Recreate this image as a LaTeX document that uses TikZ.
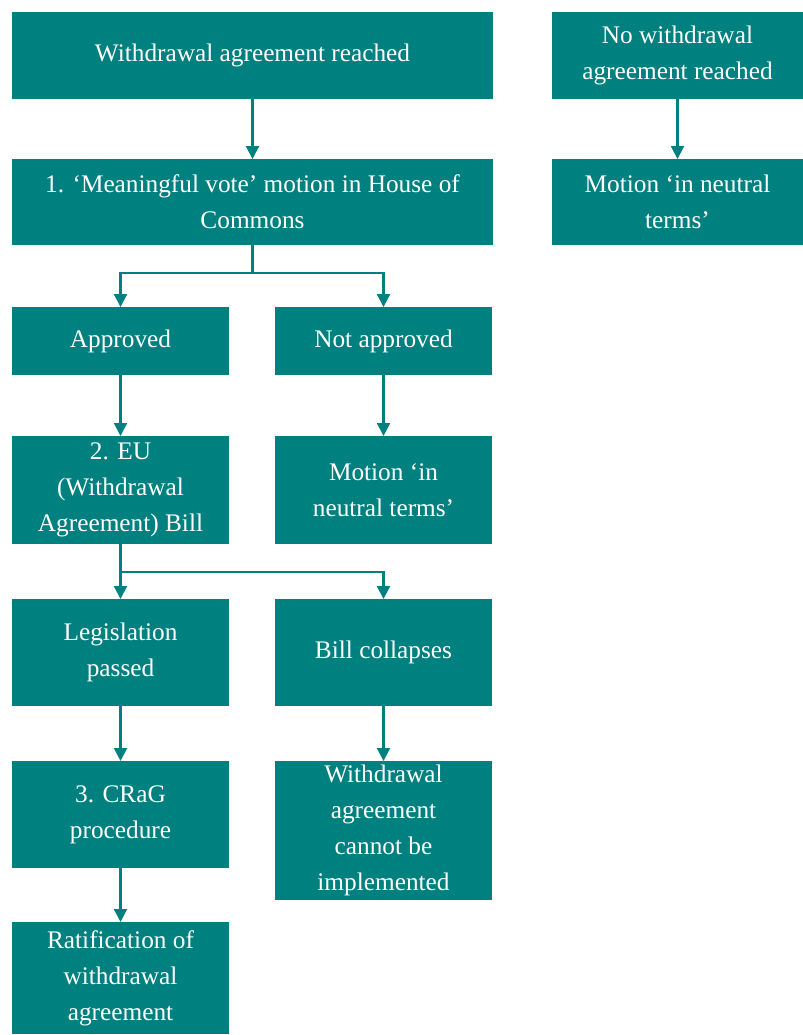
\documentclass[tikz,border=0pt]{standalone}
\usepackage{fontspec}
\setmainfont{Liberation Serif}
\usetikzlibrary{positioning,arrows.meta}
\definecolor{brexteal}{RGB}{0,128,127}

\begin{document}
\begin{tikzpicture}[
        node distance=1.5cm,
        every node/.style={font=\fontsize{18}{25.5}\selectfont},
        stage/.style={rectangle, fill=brexteal, text=white, align=center, inner sep=0pt, outer sep=0pt, minimum width=5.425cm},
        wide/.style={stage, minimum width=12.025cm, minimum height=2.175cm},
        line/.style={draw=brexteal, line width=1.5pt, -{Triangle[length=0.32cm,width=0.32cm]}}
    ]
        \useasboundingbox (0,0) rectangle (20.075,-25.875);
        \node[wide, anchor=north west] (agreed) at (0.3,-0.3) {Withdrawal agreement reached};
        \node[stage, minimum width=6.275cm, minimum height=2.175cm, right=1.475cm of agreed] (noagreed) {No withdrawal\\agreement reached};
        \node[wide, minimum height=2.15cm, below=of agreed] (mvote) {1. `Meaningful vote' motion in House of\\Commons};
        \node[stage, minimum width=6.275cm, minimum height=2.15cm, below=of noagreed] (neutraltop) {Motion `in neutral\\terms'};
        \node[stage, minimum height=1.7cm, below=1.55cm of mvote.south west, anchor=north west] (approved) {Approved};
        \node[stage, minimum height=1.7cm, right=1.15cm of approved] (notapproved) {Not approved};
        \node[stage, minimum height=2.7cm, below=1.525cm of approved] (bill) {2. EU\\(Withdrawal\\Agreement) Bill};
        \node[stage, minimum height=2.7cm, below=1.525cm of notapproved] (neutral) {Motion `in\\neutral terms'};
        \node[stage, minimum height=2.675cm, below=1.375cm of bill] (passed) {Legislation\\passed};
        \node[stage, minimum height=2.675cm, right=1.15cm of passed] (collapse) {Bill collapses};
        \node[stage, minimum height=2.675cm, below=1.375cm of passed] (crag) {3. CRaG\\procedure};
        \node[stage, minimum height=3.475cm, below=1.375cm of collapse] (cannot) {Withdrawal\\agreement\\cannot be\\implemented};
        \node[stage, minimum height=2.8cm, below=1.35cm of crag] (ratify) {Ratification of\\withdrawal\\agreement};
        \coordinate[below=0.7cm of mvote.south] (votesplit);
        \coordinate[below=0.7cm of bill.south] (billsplit);
        \draw[line] (agreed) -- (mvote);
        \draw[line] (noagreed) -- (neutraltop);
        \draw[line] (mvote.south) -- (votesplit) -| (approved.north);
        \draw[line] (votesplit) -| (notapproved.north);
        \draw[line] (approved) -- (bill);
        \draw[line] (notapproved) -- (neutral);
        \draw[line] (bill) -- (passed);
        \draw[line] (billsplit) -| (collapse.north);
        \draw[line] (passed) -- (crag);
        \draw[line] (collapse) -- (cannot);
        \draw[line] (crag) -- (ratify);
    \end{tikzpicture}
\end{document}
